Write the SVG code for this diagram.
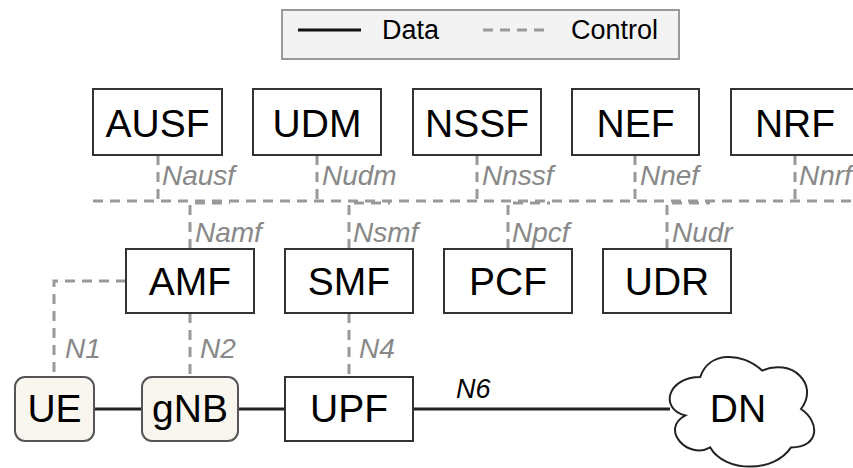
<svg xmlns="http://www.w3.org/2000/svg" width="853" height="468" viewBox="0 0 853 468">
  <style>
    .box { fill: #ffffff; stroke: #333333; stroke-width: 2; }
    .ran { fill: #f8f6ee; stroke: #555555; stroke-width: 2; }
    .name { font-family: "Liberation Sans", Arial, sans-serif; font-size: 39px; fill: #000000; text-anchor: middle; }
    .ctl { fill: none; stroke: #999999; stroke-width: 3; stroke-dasharray: 10 7; }
    .data { fill: none; stroke: #222222; stroke-width: 3; }
    .ilbl { font-family: "Liberation Sans", Arial, sans-serif; font-size: 28px; font-style: italic; fill: #888888; }
    .dlbl { font-family: "Liberation Sans", Arial, sans-serif; font-size: 27px; font-style: italic; fill: #000000; }
    .legend { font-family: "Liberation Sans", Arial, sans-serif; font-size: 27px; fill: #000000; }
  </style>

  <!-- Legend -->
  <g id="legend">
    <rect x="282" y="10" width="397" height="49" fill="#f3f3f3" stroke="#999999" stroke-width="2"/>
    <line x1="298" y1="30" x2="361" y2="30" stroke="#111111" stroke-width="3"/>
    <text class="legend" x="382" y="39">Data</text>
    <line x1="483" y1="30" x2="548" y2="30" class="ctl"/>
    <text class="legend" x="571" y="39">Control</text>
  </g>

  <!-- Connectors -->
  <g id="connectors">
    <!-- service-based control bus -->
    <path class="ctl" d="M93 201 H860"/>
    <path class="ctl" d="M158 155 V201"/>
    <path class="ctl" d="M317 155 V201"/>
    <path class="ctl" d="M477 155 V201"/>
    <path class="ctl" d="M635 155 V201"/>
    <path class="ctl" d="M795 155 V201"/>
    <path class="ctl" d="M190 249 V203 H230"/>
    <path class="ctl" d="M349 249 V203 H390"/>
    <path class="ctl" d="M508 249 V203 H550"/>
    <path class="ctl" d="M667 249 V203 H710"/>
    <!-- point-to-point control -->
    <path class="ctl" d="M126 281 H54 V377"/>
    <path class="ctl" d="M190 313 V377"/>
    <path class="ctl" d="M349 313 V377"/>
    <!-- user plane -->
    <path class="data" d="M94 409 H142" stroke="#444444"/>
    <path class="data" d="M238 409 H285"/>
    <path class="data" d="M413 409 H670"/>

    <text class="ilbl" x="162" y="185">Nausf</text>
    <text class="ilbl" x="322" y="185">Nudm</text>
    <text class="ilbl" x="482" y="185">Nnssf</text>
    <text class="ilbl" x="640" y="185">Nnef</text>
    <text class="ilbl" x="799" y="185">Nnrf</text>
    <text class="ilbl" x="195" y="242">Namf</text>
    <text class="ilbl" x="353" y="242">Nsmf</text>
    <text class="ilbl" x="512" y="242">Npcf</text>
    <text class="ilbl" x="672" y="242">Nudr</text>
    <text class="ilbl" x="65" y="358">N1</text>
    <text class="ilbl" x="200" y="358">N2</text>
    <text class="ilbl" x="359" y="358">N4</text>
    <text class="dlbl" x="456" y="398">N6</text>
  </g>

  <!-- Top row network functions -->
  <g id="ausf"><rect class="box" x="93" y="89" width="129" height="66"/><text class="name" x="157.5" y="137">AUSF</text></g>
  <g id="udm"><rect class="box" x="253" y="89" width="128" height="66"/><text class="name" x="317" y="137">UDM</text></g>
  <g id="nssf"><rect class="box" x="413" y="89" width="128" height="66"/><text class="name" x="477" y="137">NSSF</text></g>
  <g id="nef"><rect class="box" x="572" y="89" width="127" height="66"/><text class="name" x="635.5" y="137">NEF</text></g>
  <g id="nrf"><rect class="box" x="731" y="89" width="128" height="66"/><text class="name" x="795" y="137">NRF</text></g>

  <!-- Middle row network functions -->
  <g id="amf"><rect class="box" x="126" y="249" width="128" height="64"/><text class="name" x="190" y="295">AMF</text></g>
  <g id="smf"><rect class="box" x="285" y="249" width="128" height="64"/><text class="name" x="349" y="295">SMF</text></g>
  <g id="pcf"><rect class="box" x="444" y="249" width="128" height="64"/><text class="name" x="508" y="295">PCF</text></g>
  <g id="udr"><rect class="box" x="603" y="249" width="128" height="64"/><text class="name" x="667" y="295">UDR</text></g>

  <!-- User plane -->
  <g id="ue"><rect class="ran" x="15" y="377" width="79" height="64" rx="10"/><text class="name" x="54.5" y="422">UE</text></g>
  <g id="gnb"><rect class="ran" x="142" y="377" width="96" height="64" rx="10"/><text class="name" x="190" y="422">gNB</text></g>
  <g id="upf"><rect class="box" x="285" y="377" width="128" height="64"/><text class="name" x="349" y="422">UPF</text></g>
  <g id="dn">
    <path fill="#ffffff" stroke="#222222" stroke-width="2" d="M700.25 377 C667.25 377 659 409 685.4 415.4 C659 429.5 688.7 460.2 710.2 447.4 C725 473 774.5 473 791 447.4 C820 447.4 820 421.8 801 409 C820 383.4 791 357.8 762.1 370.6 C741.5 351.4 708.5 351.4 700.25 377 Z"/>
    <text class="name" x="738" y="422">DN</text>
  </g>
</svg>
